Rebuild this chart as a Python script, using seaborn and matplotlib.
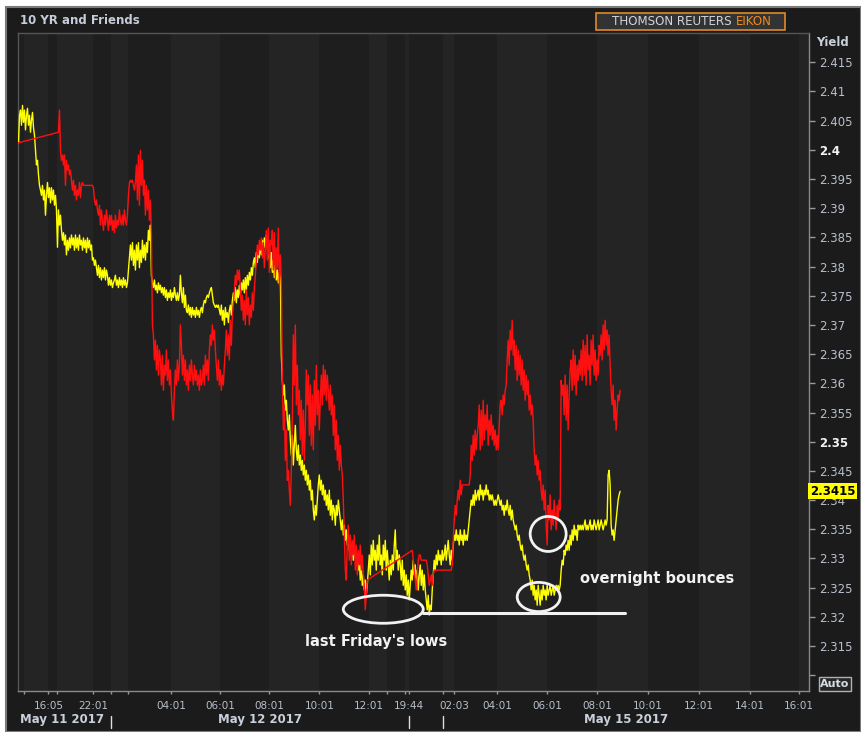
import numpy as np
import pandas as pd
import matplotlib
matplotlib.use("Agg")
import matplotlib.pyplot as plt
import seaborn as sns
from matplotlib.patches import Ellipse, Rectangle
from matplotlib.transforms import blended_transform_factory

# ---------------- data ----------------
# 10 YR yield (yellow), one tick per index step
yield_10yr = [
    2.4012, 2.4059, 2.4068, 2.4042, 2.4076, 2.4047, 2.4068, 2.4034, 2.4059, 2.4071,
    2.4042, 2.4059, 2.4030, 2.4051, 2.4064, 2.4038, 2.4025, 2.3999, 2.3974, 2.3982,
    2.3957, 2.3939, 2.3931, 2.3922, 2.3939, 2.3914, 2.3931, 2.3888, 2.3922, 2.3944,
    2.3918, 2.3935, 2.3909, 2.3935, 2.3914, 2.3931, 2.3905, 2.3922, 2.3897, 2.3833,
    2.3897, 2.3871, 2.3888, 2.3862, 2.3845, 2.3858, 2.3837, 2.3854, 2.3820, 2.3845,
    2.3828, 2.3849, 2.3832, 2.3854, 2.3837, 2.3849, 2.3828, 2.3854, 2.3832, 2.3849,
    2.3828, 2.3854, 2.3837, 2.3845, 2.3828, 2.3849, 2.3832, 2.3845, 2.3824, 2.3849,
    2.3832, 2.3845, 2.3828, 2.3837, 2.3811, 2.3815, 2.3802, 2.3811, 2.3798, 2.3785,
    2.3802, 2.3781, 2.3798, 2.3777, 2.3794, 2.3781, 2.3798, 2.3777, 2.3794, 2.3785,
    2.3768, 2.3781, 2.3768, 2.3777, 2.3764, 2.3772, 2.3777, 2.3785, 2.3768, 2.3777,
    2.3764, 2.3781, 2.3768, 2.3777, 2.3764, 2.3781, 2.3768, 2.3777, 2.3764, 2.3772,
    2.3794, 2.3815, 2.3837, 2.3811, 2.3841, 2.3802, 2.3828, 2.3794, 2.3837, 2.3811,
    2.3841, 2.3798, 2.3828, 2.3807, 2.3845, 2.3815, 2.3837, 2.3811, 2.3841, 2.3824,
    2.3862, 2.3845, 2.3871, 2.3785, 2.3772, 2.3764, 2.3777, 2.3760, 2.3768, 2.3755,
    2.3772, 2.3760, 2.3768, 2.3755, 2.3764, 2.3751, 2.3764, 2.3747, 2.3760, 2.3742,
    2.3755, 2.3747, 2.3760, 2.3742, 2.3755, 2.3747, 2.3764, 2.3751, 2.3742, 2.3755,
    2.3742, 2.3751, 2.3785, 2.3755, 2.3738, 2.3764, 2.3730, 2.3751, 2.3725, 2.3721,
    2.3734, 2.3717, 2.3730, 2.3713, 2.3730, 2.3717, 2.3725, 2.3713, 2.3730, 2.3717,
    2.3725, 2.3713, 2.3725, 2.3730, 2.3721, 2.3734, 2.3742, 2.3738, 2.3747, 2.3751,
    2.3747, 2.3755, 2.3760, 2.3764, 2.3751, 2.3738, 2.3734, 2.3730, 2.3734, 2.3730,
    2.3734, 2.3725, 2.3717, 2.3734, 2.3708, 2.3725, 2.3700, 2.3730, 2.3713, 2.3721,
    2.3704, 2.3725, 2.3734, 2.3717, 2.3742, 2.3755, 2.3742, 2.3764, 2.3738, 2.3760,
    2.3747, 2.3768, 2.3751, 2.3772, 2.3760, 2.3777, 2.3755, 2.3781, 2.3760, 2.3785,
    2.3768, 2.3790, 2.3777, 2.3798, 2.3785, 2.3807, 2.3815, 2.3798, 2.3824, 2.3807,
    2.3832, 2.3815, 2.3841, 2.3820, 2.3845, 2.3828, 2.3849, 2.3832, 2.3854, 2.3837,
    2.3815, 2.3837, 2.3798, 2.3824, 2.3790, 2.3811, 2.3781, 2.3802, 2.3777, 2.3794,
    2.3772, 2.3790, 2.3785, 2.3648, 2.3605, 2.3580, 2.3597, 2.3554, 2.3571, 2.3537,
    2.3520, 2.3546, 2.3503, 2.3477, 2.3511, 2.3460, 2.3494, 2.3528, 2.3486, 2.3468,
    2.3494, 2.3460, 2.3477, 2.3451, 2.3468, 2.3443, 2.3460, 2.3434, 2.3451, 2.3426,
    2.3443, 2.3417, 2.3434, 2.3400, 2.3417, 2.3383, 2.3366, 2.3391, 2.3374, 2.3400,
    2.3426, 2.3443, 2.3417, 2.3434, 2.3409, 2.3426, 2.3400, 2.3417, 2.3391, 2.3409,
    2.3383, 2.3417, 2.3374, 2.3400, 2.3366, 2.3391, 2.3383, 2.3357, 2.3391, 2.3374,
    2.3400, 2.3383, 2.3366, 2.3349, 2.3366, 2.3340, 2.3357, 2.3331, 2.3349, 2.3323,
    2.3340, 2.3314, 2.3331, 2.3306, 2.3323, 2.3297, 2.3314, 2.3306, 2.3289, 2.3306,
    2.3280, 2.3297, 2.3263, 2.3289, 2.3254, 2.3272, 2.3246, 2.3263, 2.3237, 2.3254,
    2.3280, 2.3306, 2.3272, 2.3323, 2.3289, 2.3331, 2.3297, 2.3314, 2.3280, 2.3323,
    2.3297, 2.3340, 2.3289, 2.3306, 2.3272, 2.3323, 2.3297, 2.3331, 2.3280, 2.3314,
    2.3289, 2.3263, 2.3297, 2.3272, 2.3306, 2.3280, 2.3323, 2.3349, 2.3297, 2.3314,
    2.3280, 2.3306, 2.3289, 2.3263, 2.3297, 2.3254, 2.3280, 2.3246, 2.3272, 2.3237,
    2.3263, 2.3229, 2.3254, 2.3280, 2.3263, 2.3297, 2.3272, 2.3289, 2.3254, 2.3280,
    2.3246, 2.3272, 2.3289, 2.3254, 2.3280, 2.3246, 2.3272, 2.3246, 2.3229, 2.3212,
    2.3237, 2.3203, 2.3220, 2.3212, 2.3246, 2.3272, 2.3297, 2.3280, 2.3306, 2.3289,
    2.3314, 2.3297, 2.3306, 2.3289, 2.3314, 2.3297, 2.3306, 2.3323, 2.3297, 2.3314,
    2.3331, 2.3306, 2.3289, 2.3314, 2.3297, 2.3323, 2.3340, 2.3331, 2.3349, 2.3331,
    2.3340, 2.3323, 2.3349, 2.3331, 2.3340, 2.3323, 2.3349, 2.3331, 2.3340, 2.3331,
    2.3349, 2.3366, 2.3383, 2.3400, 2.3391, 2.3409, 2.3391, 2.3417, 2.3400, 2.3409,
    2.3417, 2.3400, 2.3426, 2.3409, 2.3417, 2.3400, 2.3417, 2.3409, 2.3426, 2.3409,
    2.3417, 2.3400, 2.3409, 2.3400, 2.3409, 2.3400, 2.3391, 2.3400, 2.3391, 2.3400,
    2.3409, 2.3400, 2.3391, 2.3400, 2.3383, 2.3391, 2.3374, 2.3391, 2.3383, 2.3400,
    2.3383, 2.3374, 2.3391, 2.3366, 2.3383, 2.3366, 2.3357, 2.3349, 2.3357, 2.3340,
    2.3331, 2.3340, 2.3323, 2.3314, 2.3323, 2.3306, 2.3297, 2.3306, 2.3289, 2.3280,
    2.3289, 2.3272, 2.3263, 2.3246, 2.3263, 2.3237, 2.3254, 2.3229, 2.3246, 2.3220,
    2.3254, 2.3237, 2.3220, 2.3246, 2.3229, 2.3254, 2.3237, 2.3246, 2.3229, 2.3254,
    2.3237, 2.3246, 2.3254, 2.3237, 2.3246, 2.3254, 2.3237, 2.3246, 2.3254, 2.3246,
    2.3254, 2.3246, 2.3254, 2.3280, 2.3297, 2.3289, 2.3314, 2.3306, 2.3323, 2.3314,
    2.3331, 2.3314, 2.3340, 2.3323, 2.3349, 2.3331, 2.3357, 2.3340, 2.3349, 2.3331,
    2.3357, 2.3349, 2.3357, 2.3349, 2.3357, 2.3349, 2.3357, 2.3366, 2.3349, 2.3357,
    2.3349, 2.3357, 2.3366, 2.3349, 2.3357, 2.3349, 2.3366, 2.3357, 2.3349, 2.3357,
    2.3366, 2.3349, 2.3357, 2.3366, 2.3357, 2.3349, 2.3357, 2.3366, 2.3357, 2.3366,
    2.3443, 2.3451, 2.3426, 2.3357, 2.3340, 2.3349, 2.3331, 2.3349, 2.3366, 2.3383,
    2.3400, 2.3409, 2.3415,
]

# companion yield (red): three stretches of ticks, straight lines across the gaps
red_first_start = 0
red_first = [2.4012]

red_mid_start = 40
red_mid = [
    2.4030, 2.4068, 2.3999, 2.3982, 2.3991, 2.3974, 2.3991, 2.3939, 2.3982, 2.3965,
    2.3974, 2.3957, 2.3965, 2.3948, 2.3931, 2.3948, 2.3922, 2.3939, 2.3914, 2.3931,
    2.3922, 2.3944, 2.3918, 2.3939, 2.3944, 2.3939, 2.3939, 2.3939, 2.3939, 2.3939,
    2.3939, 2.3939, 2.3939, 2.3939, 2.3939, 2.3935, 2.3914, 2.3905, 2.3914, 2.3897,
    2.3888, 2.3905, 2.3871, 2.3897, 2.3879, 2.3862, 2.3888, 2.3871, 2.3897, 2.3879,
    2.3862, 2.3888, 2.3871, 2.3888, 2.3862, 2.3879, 2.3858, 2.3888, 2.3866, 2.3879,
    2.3871, 2.3897, 2.3879, 2.3871, 2.3888, 2.3871, 2.3897, 2.3879, 2.3871, 2.3888,
    2.3922, 2.3944, 2.3948, 2.3944, 2.3948, 2.3939, 2.3931, 2.3944, 2.3974, 2.3914,
    2.3991, 2.3905, 2.3999, 2.3939, 2.3982, 2.3922, 2.3948, 2.3888, 2.3939, 2.3897,
    2.3931, 2.3879, 2.3914, 2.3854, 2.3700, 2.3683, 2.3640, 2.3674, 2.3623, 2.3665,
    2.3614, 2.3657, 2.3640, 2.3597, 2.3648, 2.3588, 2.3631, 2.3614, 2.3657, 2.3605,
    2.3640, 2.3597, 2.3623, 2.3580, 2.3554, 2.3537, 2.3588, 2.3623, 2.3597, 2.3640,
    2.3605, 2.3631, 2.3700, 2.3665, 2.3614, 2.3648, 2.3605, 2.3640, 2.3597, 2.3623,
    2.3588, 2.3631, 2.3605, 2.3640, 2.3614, 2.3597, 2.3631, 2.3605, 2.3623, 2.3597,
    2.3614, 2.3588, 2.3623, 2.3597, 2.3605, 2.3631, 2.3597, 2.3648, 2.3614, 2.3640,
    2.3605, 2.3657, 2.3683, 2.3665, 2.3700, 2.3674, 2.3691, 2.3657, 2.3631, 2.3605,
    2.3640, 2.3597, 2.3623, 2.3588, 2.3614, 2.3597, 2.3631, 2.3657, 2.3691, 2.3648,
    2.3683, 2.3640, 2.3708, 2.3665, 2.3717, 2.3734, 2.3760, 2.3785, 2.3768, 2.3794,
    2.3777, 2.3794, 2.3760, 2.3725, 2.3751, 2.3708, 2.3742, 2.3700, 2.3760, 2.3717,
    2.3747, 2.3700, 2.3734, 2.3713, 2.3755, 2.3725, 2.3764, 2.3785, 2.3811, 2.3837,
    2.3820, 2.3845, 2.3828, 2.3849, 2.3815, 2.3841, 2.3798, 2.3828, 2.3862, 2.3811,
    2.3866, 2.3790, 2.3845, 2.3837, 2.3862, 2.3794, 2.3858, 2.3781, 2.3832, 2.3798,
    2.3866, 2.3768, 2.3820, 2.3777, 2.3605, 2.3520, 2.3563, 2.3468, 2.3520, 2.3434,
    2.3451, 2.3417, 2.3391, 2.3451, 2.3537, 2.3683, 2.3597, 2.3700, 2.3563, 2.3631,
    2.3546, 2.3588, 2.3503, 2.3571, 2.3477, 2.3554, 2.3468, 2.3528, 2.3623, 2.3563,
    2.3614, 2.3511, 2.3597, 2.3494, 2.3580, 2.3486, 2.3605, 2.3528, 2.3631, 2.3546,
    2.3588, 2.3520, 2.3571, 2.3614, 2.3563, 2.3631, 2.3580, 2.3623, 2.3571, 2.3614,
    2.3588, 2.3554, 2.3597, 2.3546, 2.3580, 2.3511, 2.3563, 2.3486, 2.3537, 2.3468,
    2.3511, 2.3451, 2.3494, 2.3460, 2.3443, 2.3400, 2.3340, 2.3280, 2.3263, 2.3323,
    2.3357, 2.3297, 2.3340, 2.3289, 2.3331, 2.3306, 2.3340, 2.3280, 2.3323, 2.3272,
    2.3314, 2.3289, 2.3323, 2.3280, 2.3306, 2.3272, 2.3254, 2.3212, 2.3237, 2.3263,
]

red_late_start = 394
red_late = [
    2.3314, 2.3297, 2.3280, 2.3263, 2.3246, 2.3272,
    2.3297, 2.3306, 2.3306, 2.3297, 2.3297, 2.3297, 2.3297, 2.3297, 2.3297, 2.3289,
    2.3272, 2.3254, 2.3263, 2.3272, 2.3254, 2.3272, 2.3280, 2.3280, 2.3280, 2.3280,
    2.3280, 2.3280, 2.3280, 2.3280, 2.3280, 2.3280, 2.3280, 2.3280, 2.3280, 2.3280,
    2.3280, 2.3280, 2.3280, 2.3280, 2.3289, 2.3331, 2.3366, 2.3391, 2.3374, 2.3400,
    2.3417, 2.3400, 2.3434, 2.3409, 2.3426, 2.3426, 2.3426, 2.3426, 2.3426, 2.3426,
    2.3426, 2.3426, 2.3443, 2.3494, 2.3468, 2.3511, 2.3477, 2.3520, 2.3486, 2.3511,
    2.3528, 2.3563, 2.3486, 2.3554, 2.3494, 2.3571, 2.3503, 2.3546, 2.3520, 2.3563,
    2.3494, 2.3537, 2.3511, 2.3546, 2.3503, 2.3528, 2.3494, 2.3520, 2.3486, 2.3511,
    2.3486, 2.3528, 2.3563, 2.3571, 2.3546, 2.3580, 2.3563, 2.3588, 2.3597, 2.3640,
    2.3674, 2.3631, 2.3691, 2.3657, 2.3708, 2.3648, 2.3674, 2.3623, 2.3665, 2.3605,
    2.3657, 2.3614, 2.3648, 2.3597, 2.3640, 2.3588, 2.3623, 2.3571, 2.3614, 2.3580,
    2.3605, 2.3554, 2.3580, 2.3546, 2.3563, 2.3537, 2.3486, 2.3460, 2.3477, 2.3443,
    2.3468, 2.3434, 2.3451, 2.3417, 2.3400, 2.3426, 2.3383, 2.3417, 2.3357, 2.3323,
    2.3391, 2.3366, 2.3409, 2.3349, 2.3383, 2.3357, 2.3400, 2.3374, 2.3349, 2.3391,
    2.3366, 2.3400, 2.3383, 2.3605, 2.3580, 2.3597, 2.3546, 2.3614, 2.3537, 2.3597,
    2.3520, 2.3580, 2.3623, 2.3640, 2.3588, 2.3657, 2.3597, 2.3648, 2.3580, 2.3631,
    2.3605, 2.3640, 2.3614, 2.3657, 2.3605, 2.3674, 2.3614, 2.3665, 2.3597, 2.3683,
    2.3623, 2.3648, 2.3597, 2.3674, 2.3631, 2.3683, 2.3614, 2.3657, 2.3605, 2.3640,
    2.3614, 2.3665, 2.3648, 2.3683, 2.3640, 2.3700, 2.3657, 2.3708, 2.3665, 2.3691,
    2.3648, 2.3683, 2.3631, 2.3588, 2.3563, 2.3597, 2.3537, 2.3571, 2.3520, 2.3554,
    2.3580, 2.3571, 2.3588,
]

major_tick_pos = [30, 75, 153, 202, 251, 301, 351, 391, 436, 479, 529, 579, 630, 681, 732, 781]
major_tick_labels = ["16:05", "22:01", "04:01", "06:01", "08:01", "10:01", "12:01", "19:44",
                     "02:03", "04:01", "06:01", "08:01", "10:01", "12:01", "14:01", "16:01"]
minor_tick_pos = [6, 39, 93, 110, 369, 387, 425]
day_labels = ["May 11 2017", "May 12 2017", "May 15 2017"]
day_breaks = [93, 391, 425]
y_tick_values = [2.31, 2.315, 2.32, 2.325, 2.33, 2.335, 2.34, 2.345, 2.35, 2.355, 2.36,
                 2.365, 2.37, 2.375, 2.38, 2.385, 2.39, 2.395, 2.4, 2.405, 2.41, 2.415]
last_value = 2.3415

# ---------------- figure ----------------
sns.set_style("dark")
plt.rcParams['font.family'] = ['DejaVu Sans']

W, H = 861, 732
fig = plt.figure(figsize=(W / 100, H / 100), dpi=100, facecolor='white')

def fx(px):
    return px / W

def fy(py):
    return 1 - py / H

# dark panel with thin grey frame (behind the axes)
fig.patches.append(Rectangle((fx(6), 0), 1 - fx(6), fy(7), transform=fig.transFigure,
                             facecolor='#1b1b1b', edgecolor='#7a7a7a', lw=1.5, zorder=-5))

ax = fig.add_axes([fx(18), fy(691), fx(809) - fx(18), fy(33) - fy(691)])
ax.set_zorder(1)
ax.set_facecolor('#202020')

# subtle alternating vertical bands between ticks
edges = sorted([0] + major_tick_pos + minor_tick_pos + [791])
for i in range(len(edges) - 1):
    ax.axvspan(edges[i], edges[i + 1], color='#242424' if i % 2 else '#1e1e1e', lw=0, zorder=0)

# data frame for seaborn
t_yellow = np.arange(len(yield_10yr))
t_red = np.concatenate([red_first_start + np.arange(len(red_first)),
                        red_mid_start + np.arange(len(red_mid)),
                        red_late_start + np.arange(len(red_late))])
v_red = red_first + red_mid + red_late
df = pd.concat([
    pd.DataFrame({'t': t_yellow, 'yield': yield_10yr, 'series': '10 YR'}),
    pd.DataFrame({'t': t_red, 'yield': v_red, 'series': 'Friend'}),
], ignore_index=True)

sns.lineplot(data=df, x='t', y='yield', hue='series', hue_order=['10 YR', 'Friend'],
             palette={'10 YR': '#ffff00', 'Friend': '#ff1010'}, estimator=None, sort=False,
             legend=False, lw=1.0, ax=ax, zorder=3)

ax.set_xlim(-0.5, 791)
ax.set_ylim(2.3073, 2.4200)
ax.set_xlabel('')
ax.set_ylabel('')
ax.grid(False)

for s in ['left', 'top']:
    ax.spines[s].set_color('#555555')
    ax.spines[s].set_linewidth(1)
for s in ['right', 'bottom']:
    ax.spines[s].set_color('#8a8a8a')
    ax.spines[s].set_linewidth(1)

# y axis on the right
ax.yaxis.tick_right()
ax.set_yticks(y_tick_values)
ylabels = ['' if abs(v - 2.31) < 1e-9 else ('%g' % v) for v in y_tick_values]
ax.set_yticklabels(ylabels)
ax.tick_params(axis='y', which='major', right=True, left=False, length=4, width=1,
               color='#9a9a9a', labelcolor='#b8c0cc', labelsize=8.5, pad=3, direction='out')
for lab, v in zip(ax.get_yticklabels(), y_tick_values):
    if abs(v - 2.4) < 1e-9 or abs(v - 2.35) < 1e-9:
        lab.set_fontweight('bold')
        lab.set_color('#f2f2f2')

# x axis
ax.set_xticks(major_tick_pos)
ax.set_xticklabels(major_tick_labels)
ax.set_xticks(minor_tick_pos, minor=True)
ax.tick_params(axis='x', which='both', bottom=True, length=2, width=1, color='#9a9a9a',
               labelcolor='#b8c0cc', labelsize=7.5, pad=5, direction='out')

# day labels and separators
day_style = dict(color='#c8d0dc', fontsize=8.5, fontweight='bold', va='center')
fig.text(fx(20), fy(720), day_labels[0], ha='left', **day_style)
fig.text(fx(260), fy(720), day_labels[1], ha='center', **day_style)
fig.text(fx(626), fy(720), day_labels[2], ha='center', **day_style)
btf = blended_transform_factory(ax.transData, fig.transFigure)
for b in day_breaks:
    ax.plot([b, b], [fy(728), fy(716)], transform=btf, color='#dddddd', lw=1, clip_on=False)

# title, logo, yield label
fig.text(fx(20), fy(21), "10 YR and Friends", color='#c5cdd8', fontsize=8.5,
         fontweight='bold', ha='left', va='center')
fig.patches.append(Rectangle((fx(596), fy(30)), fx(785) - fx(596), fy(13) - fy(30),
                             transform=fig.transFigure, facecolor='#333333',
                             edgecolor='#e0892a', lw=1.2, zorder=1))
fig.text(fx(732), fy(21.5), "THOMSON REUTERS", color='#d0d4da', fontsize=8.6,
         ha='right', va='center')
fig.text(fx(736), fy(21.5), "EIKON", color='#f08a1c', fontsize=8.6, ha='left', va='center')
fig.text(fx(833), fy(42), "Yield", color='#c8d0dc', fontsize=8.5, fontweight='bold',
         ha='center', va='center')

# last value marker box
ax.text(1.001, last_value, '%.4f' % last_value,
        transform=blended_transform_factory(ax.transAxes, ax.transData),
        ha='left', va='center', fontsize=8.5, fontweight='bold', color='black', zorder=10,
        clip_on=False, bbox=dict(boxstyle='square,pad=0.12', fc='#ffff00', ec='none'))

# "Auto" button
fig.text(fx(835), fy(684), "Auto", color='#d8dde5', fontsize=8, fontweight='bold',
         ha='center', va='center', zorder=5,
         bbox=dict(boxstyle='square,pad=0.15', fc='#262626', ec='#b0b0b0', lw=1))

# annotations
ann_color = '#f2f2f2'
ax.add_patch(Ellipse((365, 2.3213), 80, 0.0048, fill=False, ec=ann_color, lw=2, zorder=6))
ax.add_patch(Ellipse((520.5, 2.3234), 43, 0.0050, fill=False, ec=ann_color, lw=2, zorder=6))
ax.add_patch(Ellipse((530, 2.3342), 36, 0.0060, fill=False, ec=ann_color, lw=2, zorder=6))
ax.plot([405, 607], [2.3206, 2.3206], color=ann_color, lw=2.2, zorder=6)
ax.text(358, 2.3157, "last Friday's lows", color='#f2f2f2', fontsize=10.5,
        fontweight='bold', ha='center', va='center', zorder=7)
ax.text(639, 2.3266, "overnight bounces", color='#f2f2f2', fontsize=10.5,
        fontweight='bold', ha='center', va='center', zorder=7)

fig.savefig('out.png', dpi=100, facecolor=fig.get_facecolor())
